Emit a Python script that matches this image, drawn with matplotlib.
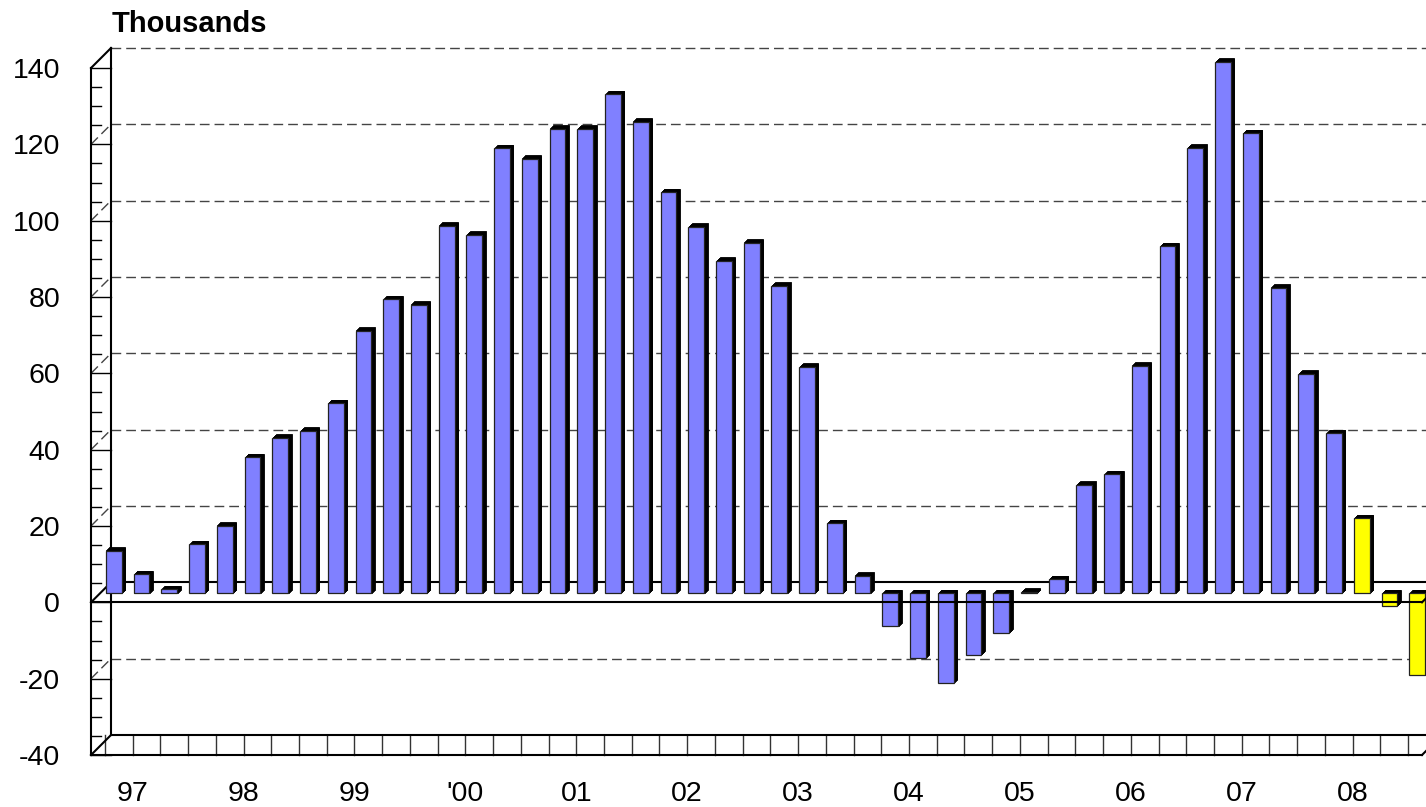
# -*- coding: utf-8 -*-
"""
Quarterly change (thousands), 1997-2008.
Pseudo 3D column chart in the style of an old spreadsheet export.
"""
# =============================     Import modules     =====================
import numpy as np
import matplotlib.pyplot as plt
import matplotlib.transforms as mtrans
from matplotlib.lines import Line2D
from matplotlib import rcParams

# =============================     Data     ================================
years = ['97', '98', '99', "'00", '01', '02', '03', '04', '05', '06', '07', '08']

# one value per quarter (thousands)
values = [
    11.1,   5.0,   1.1,  12.9,    # 97
    17.7,  35.6,  40.7,  42.6,    # 98
    49.8,  68.8,  77.1,  75.6,    # 99
    96.3,  94.0, 116.6, 113.8,    # 00
   121.7, 121.7, 130.8, 123.5,    # 01
   105.1,  96.1,  87.2,  91.8,    # 02
    80.6,  59.4,  18.3,   4.6,    # 03
    -8.6, -16.9, -23.4, -16.1,    # 04
   -10.3,   0.4,   3.7,  28.4,    # 05
    31.2,  59.6,  90.9, 116.7,    # 06
   139.3, 120.6,  80.0,  57.5,    # 07
    42.0,  19.7,  -3.3, -21.5,    # 08
]
n_forecast = 3   # last quarters drawn in yellow

y_ticks = list(range(-40, 141, 20))

# ================   User settings  =======================================
blue   = '#8080FF'
yellow = '#FFFF00'
depth  = 20      # depth of the chart box, px
bar_d0 = 9       # front face of the columns, px
bar_d1 = 12.5    # back face of the columns, px
bw     = 0.57    # column width (category units)
fsize  = 20.5
grid_c = '#444444'

rcParams['font.family'] = ['Liberation Sans', 'DejaVu Sans']

W, H = 1426, 807

#=============================    Main program   ==============================
fig = plt.figure(figsize=(W / 100, H / 100), dpi=100)
ax = fig.add_axes([91 / W, 52 / H, 1331 / W, 687 / H])
nq = len(values)
ax.set_xlim(0, nq)
ax.set_ylim(y_ticks[0], y_ticks[-1])
for sp in ax.spines.values():
    sp.set_visible(False)

# -- Tick labels through the axes themselves
ax.set_yticks(y_ticks)
ax.set_yticklabels([str(v) for v in y_ticks])
ax.set_xticks([1.5 + 4 * i for i in range(len(years))])
ax.set_xticklabels(years)
ax.tick_params(axis='y', length=0, pad=22.3, labelsize=fsize)
ax.tick_params(axis='x', length=0, pad=19, labelsize=fsize)

ident = mtrans.IdentityTransform()


def px(x, y, d=0):
    """Data point -> display pixel, pushed d px into the depth."""
    X, Y = ax.transData.transform((x, y))
    return X + d, Y + d


def seg(p0, p1, z=2, **kw):
    ax.add_line(Line2D([p0[0], p1[0]], [p0[1], p1[1]], transform=ident,
                       clip_on=False, zorder=z, **kw))


x0, x1 = 0, nq
ylo, yhi = y_ticks[0], y_ticks[-1]
frame = dict(color='black', lw=1.5, solid_capstyle='projecting')
dash = dict(color=grid_c, lw=1.0, dashes=(7, 3.6))

# -- Back wall gridlines and side wall diagonals
for v in y_ticks:
    if v in (ylo, 0):
        continue
    seg(px(x0, v, depth), px(x1, v, depth), z=1, **dash)
    if v != yhi:
        seg(px(x0, v), px(x0, v, depth), z=1, **dash)

# -- Back zero line and floor
seg(px(x0, 0, depth), px(x1, 0, depth), z=1, **frame)
seg(px(x0, 0), px(x0, 0, depth), z=1, **frame)
seg(px(x0, ylo, depth), px(x1, ylo, depth), **frame)
seg(px(x0, ylo), px(x1, ylo), **frame)
seg(px(x1, ylo), px(x1, ylo, depth), **frame)
for k in range(nq):
    p = px(k + 0.5, ylo)
    seg(p, (p[0], p[1] + depth), z=1.5, color='#333333', lw=1.0)

# -- Left wall
seg(px(x0, ylo), px(x0, yhi), **frame)
seg(px(x0, ylo, depth), px(x0, yhi, depth), **frame)
seg(px(x0, yhi), px(x0, yhi, depth), **frame)
seg(px(x0, ylo), px(x0, ylo, depth), **frame)
for v in np.arange(ylo, yhi + 0.1, 5):
    p = px(x0, v)
    w = depth if v % 20 == 0 else depth / 2
    seg(p, (p[0] + w, p[1]), color='black', lw=1.0)

# -- Columns: black extrusion first, then the coloured front faces
xs = np.arange(nq) + 0.5
colors = [blue] * (nq - n_forecast) + [yellow] * n_forecast
for d in np.arange(bar_d0 + 0.5, bar_d1 + 0.01, 0.5):
    tr = mtrans.offset_copy(ax.transData, fig=fig, x=d, y=d, units='dots')
    ax.bar(xs, values, width=bw, color='black', edgecolor='black', lw=0.6,
           transform=tr, zorder=3, clip_on=False)
tr0 = mtrans.offset_copy(ax.transData, fig=fig, x=bar_d0, y=bar_d0, units='dots')
ax.bar(xs, values, width=bw, color=colors, edgecolor='#222222', lw=0.9,
       transform=tr0, zorder=4, clip_on=False)

# -- Front zero line over the columns
seg(px(x0, 0), px(x1, 0), z=5, **frame)
seg(px(x1, 0), px(x1, 0, depth), z=5, **frame)

# -- Unit label
fig.text(112 / W, 1 - 31.7 / H, 'Thousands', fontsize=21, fontweight='bold',
         ha='left', va='baseline')

plt.savefig('out.png', dpi=100)
# =============================    End of program   =======================
